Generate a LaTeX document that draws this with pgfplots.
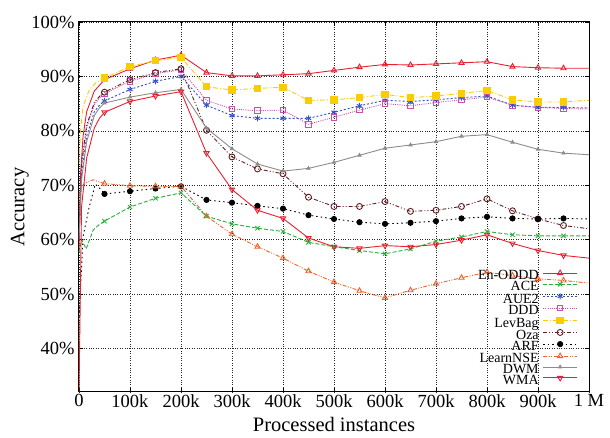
\documentclass[border=0pt]{standalone}
\usepackage{fontspec}
\setmainfont{Liberation Serif}
\usepackage{pgfplots}
\pgfplotsset{compat=1.18}
\definecolor{cEn}{RGB}{232,32,48}
\definecolor{cACE}{RGB}{40,175,60}
\definecolor{cAUE}{RGB}{50,80,200}
\definecolor{cDDD}{RGB}{200,80,170}
\definecolor{cLev}{RGB}{250,205,0}
\definecolor{cOza}{RGB}{100,30,35}
\definecolor{cARF}{RGB}{0,0,0}
\definecolor{cNSE}{RGB}{240,95,45}
\definecolor{cDWM}{RGB}{140,140,140}
\definecolor{cWMA}{RGB}{232,32,48}
\begin{document}
\begin{tikzpicture}
\begin{axis}[
  at={(0pt,0pt)}, anchor=south west,
  scale only axis, width=510pt, height=370pt,
  xmin=0, xmax=1000, ymin=32, ymax=100,
  xtick={0,100,...,1000},
  xticklabels={0,100k,200k,300k,400k,500k,600k,700k,800k,900k,1 M},
  ytick={40,50,...,100},
  yticklabels={40\%,50\%,60\%,70\%,80\%,90\%,100\%},
  grid=major, grid style={dotted, black!85, line width=0.6pt},
  tick align=inside, major tick length=4pt,
  tick style={black, line width=0.6pt},
  axis line style={line width=1pt},
  tick label style={font=\fontsize{18.5}{21}\selectfont},
  xticklabel style={yshift=1pt},
  yticklabel style={xshift=-1pt},
  xlabel={Processed instances}, ylabel={Accuracy},
  every axis x label/.style={at={(axis description cs:0.5,-0.089)}, anchor=center, font=\fontsize{20.5}{23}\selectfont},
  every axis y label/.style={at={(axis description cs:-0.116,0.5)}, anchor=center, rotate=90, font=\fontsize{20.5}{23}\selectfont},
  mark indices={6,...,24},
  every axis plot/.append style={line width=0.9pt},
  legend style={at={(0.978,0.013)}, anchor=south east, draw=none, fill=none, inner sep=0pt,
    font=\fontsize{14}{14}\selectfont, row sep=0pt, column sep=4pt,
    nodes={inner sep=0pt, text height=8.6pt, text depth=2.3pt}},
  legend cell align=right, legend plot pos=right,
  legend image code/.code={\draw[#1, mark indices={2}] plot coordinates {(0pt,3.6pt) (17pt,3.6pt) (34pt,3.6pt)};},
]
\addplot[cEn, mark=triangle, mark size=3pt, mark options={solid}] coordinates {
(0,58)(3,72)(8,79)(15,83.5)(30,87.3)(50,89.4)(100,91.4)(150,93.0)(200,93.9)(250,90.7)(300,90.1)(350,90.1)(400,90.3)(450,90.5)(500,91.1)(550,91.7)(600,92.2)(650,92.1)(700,92.3)(750,92.5)(800,92.7)(850,91.8)(900,91.6)(950,91.5)(1000,91.5)};
\addlegendentry{En-ODDD}
\addplot[cACE, dash pattern=on 4pt off 2pt, mark=x, mark size=3pt, mark options={solid}] coordinates {
(0,57.6)(5,60)(14,58.3)(28,61.8)(40,62.8)(50,63.4)(100,66.0)(150,67.6)(200,68.6)(250,64.3)(300,62.9)(350,62.1)(400,61.5)(450,59.5)(500,58.7)(550,58.0)(600,57.4)(650,58.3)(700,59.7)(750,60.5)(800,61.5)(850,60.9)(900,60.7)(950,60.7)(1000,60.7)};
\addlegendentry{ACE}
\addplot[cAUE, dash pattern=on 2pt off 2pt, mark=asterisk, mark size=3pt, mark options={solid}] coordinates {
(0,60)(5,72)(15,79)(30,83.5)(40,84.7)(50,85.5)(100,87.6)(150,89.1)(200,90.0)(250,84.7)(300,82.8)(350,82.3)(400,82.3)(450,82.3)(500,83.4)(550,84.6)(600,85.6)(650,85.4)(700,85.7)(750,86.1)(800,86.4)(850,84.7)(900,84.3)(950,84.3)(1000,84.2)};
\addlegendentry{AUE2}
\addplot[cDDD, dash pattern=on 1pt off 1.2pt, mark=square, mark size=2.8pt, mark options={solid}] coordinates {
(0,60)(5,73.5)(15,80.5)(30,84.8)(40,86)(50,86.8)(100,89.1)(150,90.5)(200,91.2)(250,85.6)(300,84.0)(350,83.7)(400,83.8)(450,81.2)(500,82.5)(550,83.8)(600,85.0)(650,84.6)(700,85.2)(750,85.7)(800,86.2)(850,84.7)(900,84.3)(950,84.1)(1000,84.0)};
\addlegendentry{DDD}
\addplot[cLev, dash pattern=on 5pt off 2pt on 1pt off 2pt, mark=square*, mark size=3.2pt, mark options={solid}] coordinates {
(0,74)(3,80)(8,84.5)(20,87.5)(35,89)(50,89.7)(100,91.8)(150,92.9)(200,93.5)(250,88.1)(300,87.5)(350,87.8)(400,88.0)(450,85.6)(500,85.7)(550,86.1)(600,86.7)(650,86.1)(700,86.4)(750,86.9)(800,87.4)(850,85.7)(900,85.3)(950,85.3)(1000,85.6)};
\addlegendentry{LevBag}
\addplot[cOza, dash pattern=on 4pt off 2pt on 1pt off 2pt on 1pt off 2pt, mark=o, mark size=3pt, mark options={solid}] coordinates {
(0,60)(5,74)(15,81)(30,85.2)(40,86.3)(50,87.1)(100,89.4)(150,90.7)(200,91.4)(250,80.1)(300,75.2)(350,73.0)(400,72.1)(450,67.8)(500,66.1)(550,66.1)(600,67.0)(650,65.2)(700,65.4)(750,66.1)(800,67.5)(850,65.3)(900,63.8)(950,62.6)(1000,62.0)};
\addlegendentry{Oza}
\addplot[cARF, dash pattern=on 1.5pt off 3pt, mark=*, mark size=2.6pt, mark options={solid}] coordinates {
(0,45)(8,60.6)(20,66)(32,70.2)(40,69.5)(50,68.4)(100,68.9)(150,69.4)(200,69.8)(250,67.3)(300,66.8)(350,66.2)(400,65.7)(450,64.5)(500,63.8)(550,63.2)(600,62.9)(650,63.1)(700,63.4)(750,63.9)(800,64.2)(850,63.9)(900,63.8)(950,63.9)(1000,63.8)};
\addlegendentry{ARF}
\addplot[cNSE, dash pattern=on 4pt off 1.5pt on 1pt off 1.5pt on 1pt off 1.5pt, mark=triangle, mark size=3pt, mark options={solid}] coordinates {
(0,68)(5,69.8)(15,70.5)(28,71)(40,70.6)(50,70.3)(100,69.9)(150,69.8)(200,69.8)(250,64.3)(300,61.0)(350,58.7)(400,56.6)(450,54.2)(500,52.2)(550,50.6)(600,49.3)(650,50.7)(700,51.9)(750,53.0)(800,54.0)(850,53.4)(900,52.8)(950,52.5)(1000,52.0)};
\addlegendentry{LearnNSE}
\addplot[cDWM, mark=triangle*, mark size=1.8pt, mark options={solid}] coordinates {
(0,60)(5,71)(15,78)(30,82.8)(40,84.2)(50,85.1)(100,86.2)(150,87.0)(200,87.6)(250,80.5)(300,76.7)(350,73.9)(400,72.6)(450,73.1)(500,74.2)(550,75.5)(600,76.8)(650,77.4)(700,78.0)(750,79.0)(800,79.3)(850,77.9)(900,76.6)(950,75.9)(1000,75.6)};
\addlegendentry{DWM}
\addplot[cWMA, mark=triangle, mark size=3pt, mark options={solid, rotate=180}] coordinates {
(0,32)(5,66)(15,75)(30,80.5)(40,82.3)(50,83.4)(100,85.4)(150,86.4)(200,87.2)(250,75.9)(300,69.2)(350,65.4)(400,63.9)(450,60.3)(500,58.7)(550,58.4)(600,58.9)(650,58.7)(700,59.1)(750,59.9)(800,60.9)(850,59.3)(900,58.0)(950,57.1)(1000,56.6)};
\addlegendentry{WMA}
\end{axis}
\path (-79pt,-46pt) rectangle (531pt,392pt);
\end{tikzpicture}
\end{document}
